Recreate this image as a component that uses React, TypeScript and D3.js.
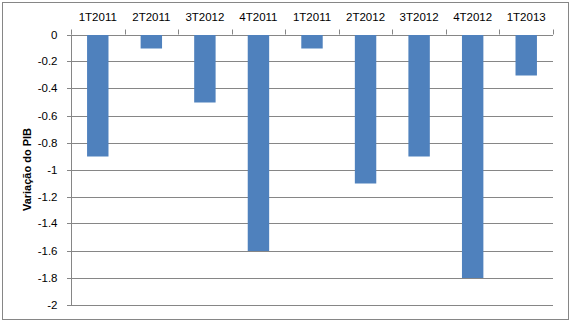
import React from "react";
import * as d3 from "d3";

const categories = ["1T2011", "2T2011", "3T2012", "4T2011", "1T2011", "2T2012", "3T2012", "4T2012", "1T2013"];
const values = [-0.9, -0.1, -0.5, -1.6, -0.1, -1.1, -0.9, -1.8, -0.3];
const yTicks = [0, -0.2, -0.4, -0.6, -0.8, -1, -1.2, -1.4, -1.6, -1.8, -2];
const yTitle = "Variação do PIB";

export default function App() {
  const W = 575, H = 322;
  const left = 71, right = 553, top = 34.5, bottom = 304.5;
  const x = d3.scaleBand<number>().domain(d3.range(categories.length)).range([left, right]).paddingInner(0.6).paddingOuter(0.3);
  const band = d3.scaleBand<number>().domain(d3.range(categories.length)).range([left, right]);
  const y = d3.scaleLinear().domain([0, -2]).range([top, bottom]);
  const font = "'Liberation Sans', Arial, sans-serif";
  const grid = "#868686";
  return (
    <svg width={W} height={H} style={{ position: "absolute", left: 0, top: 0 }}>
      <rect x={0} y={0} width={W} height={H} fill="#fff" />
      <rect x={2.5} y={2.5} width={566} height={317} fill="#fff" stroke={grid} strokeWidth={1} />
      {yTicks.map((t) => (
        <g key={t}>
          <line x1={left - 4} x2={right} y1={Math.round(y(t)) + 0.5} y2={Math.round(y(t)) + 0.5} stroke={grid} strokeWidth={1} />
          <text x={57.5} y={Math.round(y(t)) + 4} textAnchor="end" fontFamily={font} fontSize={11.5} fill="#000">
            {d3.format("")(t).replace("−", "-")}
          </text>
        </g>
      ))}
      <line x1={left + 0.5} x2={left + 0.5} y1={top} y2={bottom + 0.5} stroke={grid} />
      {d3.range(categories.length + 1).map((i) => {
        const xx = Math.round(i < categories.length ? band(i)! : right) + 0.5;
        return <line key={i} x1={xx} x2={xx} y1={y(0) - 5} y2={y(0)} stroke={grid} />;
      })}
      {values.map((v, i) => (
        <rect key={i} x={x(i)!} y={y(0) + 0.5} width={x.bandwidth()} height={y(v) - y(0)} fill="#4F81BD" />
      ))}
      {categories.map((c, i) => (
        <text key={i} x={band(i)! + band.bandwidth() / 2} y={21} textAnchor="middle" fontFamily={font} fontSize={11.5} fill="#000">
          {c}
        </text>
      ))}
      <text transform={`translate(31,${(top + bottom) / 2}) rotate(-90)`} textAnchor="middle" fontFamily={font} fontSize={11} fontWeight="bold" fill="#000">
        {yTitle}
      </text>
    </svg>
  );
}
